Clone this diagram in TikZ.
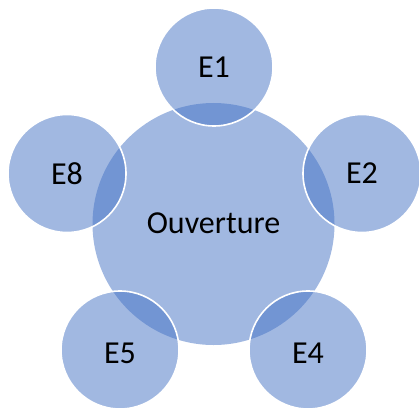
\documentclass[tikz,border=0pt]{standalone}
\usepackage{fontspec}
\setmainfont{Carlito}
\definecolor{ublue}{HTML}{4472C4}
\begin{document}
\begin{tikzpicture}[x=1pt,y=1pt,
  hub/.style={circle, inner sep=0pt, minimum size=242pt, fill=ublue, fill opacity=0.5, text opacity=1, font=\fontsize{32}{38}\selectfont},
  sat/.style={circle, inner sep=0pt, minimum size=118pt, fill=ublue, fill opacity=0.5, draw=white, draw opacity=1, line width=1.6pt, text opacity=1, font=\fontsize{32}{38}\selectfont}]
\useasboundingbox (0,0) rectangle (419,410);
\node[hub] (c) at (213.5,186) {};
\node[sat] (e1) at (214,343) {};
\node[sat] (e2) at (362,236.5) {};
\node[sat] (e4) at (308,60) {};
\node[sat] (e5) at (120,60) {};
\node[sat] (e8) at (67,236.5) {};
\node[font=\fontsize{32}{38}\selectfont] (tc) at ([yshift=1pt]c) {Ouverture};
\node[font=\fontsize{32}{38}\selectfont] (t1) at ([yshift=0pt]e1) {E1};
\node[font=\fontsize{32}{38}\selectfont] (t2) at (e2) {E2};
\node[font=\fontsize{32}{38}\selectfont] (t4) at ([yshift=-3pt]e4) {E4};
\node[font=\fontsize{32}{38}\selectfont] (t5) at ([yshift=-3pt]e5) {E5};
\node[font=\fontsize{32}{38}\selectfont] (t8) at (e8) {E8};
\end{tikzpicture}
\end{document}
